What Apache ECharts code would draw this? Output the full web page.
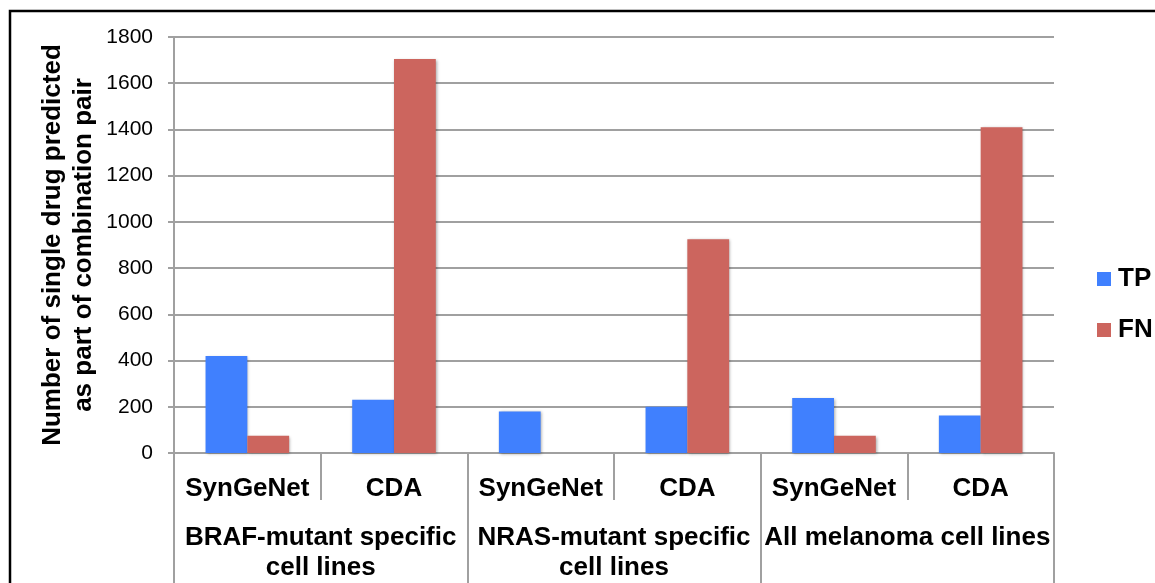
<!DOCTYPE html>
<html>
<head>
<meta charset="utf-8">
<script src="https://cdn.jsdelivr.net/npm/echarts@6/dist/echarts.min.js"></script>
<style>
  html, body { margin: 0; padding: 0; background: #fff; }
  #chart { width: 1155px; height: 583px; }
</style>
</head>
<body>
<div id="chart"></div>
<script>
// Methods within each cell-line group
const methods = ['SynGeNet', 'CDA', 'SynGeNet', 'CDA', 'SynGeNet', 'CDA'];
// Cell-line groups (outer axis level)
const groups = ['BRAF-mutant specific\ncell lines', 'NRAS-mutant specific\ncell lines', 'All melanoma cell lines'];
// Counts per method column
const tpValues = [420, 230, 180, 200, 238, 162];
const fnValues = [75, 1705, 0, 925, 75, 1410];
const yTicks = { min: 0, max: 1800, interval: 200 };

const FONT = '"Liberation Sans", Arial, Helvetica, sans-serif';
const GRAY = '#a0a0a0';

const chart = echarts.init(document.getElementById('chart'), null, { renderer: 'canvas' });

const barShadow = { shadowBlur: 3, shadowColor: 'rgba(0,0,0,0.35)', shadowOffsetX: 1, shadowOffsetY: 1 };

chart.setOption({
  animation: false,
  backgroundColor: '#fff',
  textStyle: { fontFamily: FONT },
  grid: { left: 174, right: 101, top: 37, bottom: 130, containLabel: false },
  legend: {
    orient: 'vertical',
    left: 1097,
    top: 262,
    padding: 0,
    itemWidth: 14,
    itemHeight: 14,
    itemGap: 17,
    icon: 'rect',
    textStyle: { fontFamily: FONT, fontSize: 26, fontWeight: 'bold', color: '#000', lineHeight: 30, padding: [4, 0, 0, 2] },
    data: ['TP', 'FN']
  },
  xAxis: [
    {
      type: 'category',
      data: methods,
      position: 'bottom',
      axisLine: { show: true, lineStyle: { color: GRAY, width: 2 } },
      axisTick: { show: true, interval: 0, length: 47, lineStyle: { color: GRAY, width: 2 } },
      axisLabel: { interval: 0, margin: 23, fontFamily: FONT, fontSize: 26, fontWeight: 'bold', color: '#000' }
    },
    {
      type: 'category',
      data: groups,
      position: 'bottom',
      axisLine: { show: false },
      axisTick: { show: true, interval: 0, length: 135, lineStyle: { color: GRAY, width: 2 } },
      axisLabel: { interval: 0, margin: 70, fontFamily: FONT, fontSize: 26, fontWeight: 'bold', color: '#000', lineHeight: 30 }
    }
  ],
  yAxis: {
    type: 'value',
    min: yTicks.min,
    max: yTicks.max,
    interval: yTicks.interval,
    name: 'Number of single drug predicted\nas part of combination pair',
    nameLocation: 'middle',
    nameRotate: 90,
    nameGap: 75,
    nameMoveOverlap: false,
    nameTextStyle: { fontFamily: FONT, fontSize: 26, fontWeight: 'bold', color: '#000', lineHeight: 31 },
    axisLine: { show: true, lineStyle: { color: GRAY, width: 2 } },
    axisTick: { show: true, length: 6, lineStyle: { color: GRAY, width: 2 } },
    axisLabel: { margin: 21, fontFamily: FONT, fontSize: 21, color: '#000', formatter: v => String(v) },
    splitLine: { show: true, lineStyle: { color: GRAY, width: 2 } }
  },
  series: [
    {
      name: 'TP',
      type: 'bar',
      xAxisIndex: 0,
      data: tpValues,
      barGap: '0%',
      barCategoryGap: '43%',
      itemStyle: Object.assign({ color: '#4080fe' }, barShadow)
    },
    {
      name: 'FN',
      type: 'bar',
      xAxisIndex: 0,
      data: fnValues,
      barGap: '0%',
      barCategoryGap: '43%',
      itemStyle: Object.assign({ color: '#cc655e' }, barShadow)
    }
  ],
  graphic: [
    {
      type: 'polyline',
      shape: { points: [[10, 583], [10, 11], [1155, 11]] },
      style: { stroke: '#000', lineWidth: 2.5, fill: null },
      silent: true
    }
  ]
});
</script>
</body>
</html>
